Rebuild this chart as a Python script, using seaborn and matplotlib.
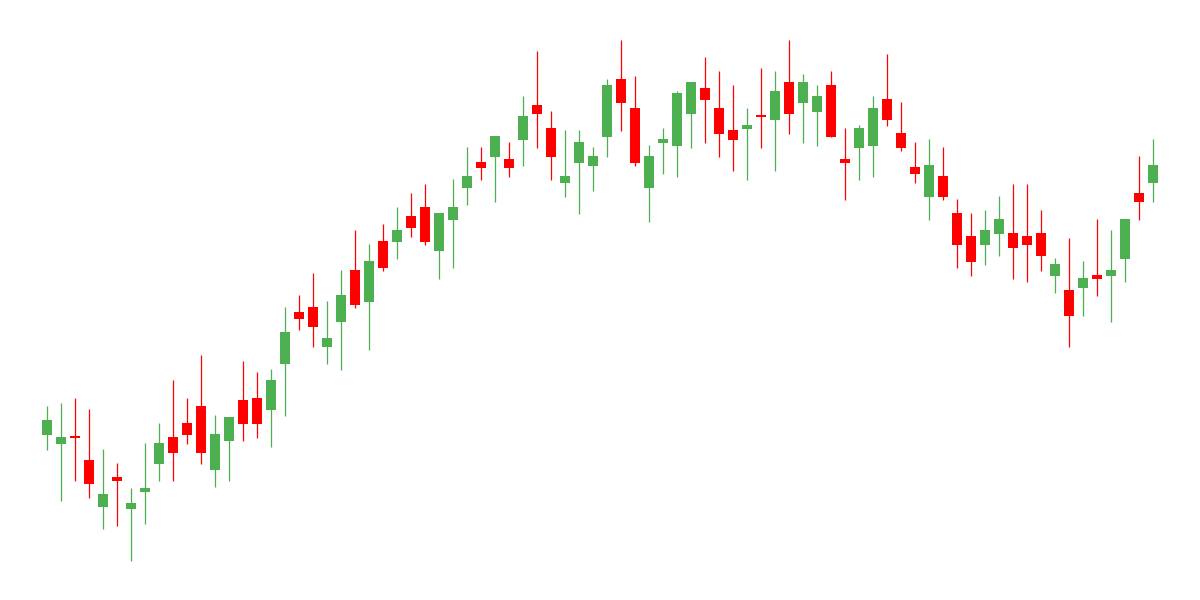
import numpy as np
import pandas as pd
import matplotlib
matplotlib.use("Agg")
import matplotlib.pyplot as plt
import seaborn as sns

# OHLC values (arbitrary price units)
opens = [165.3, 156.3, 163, 140, 93.3, 123, 91.3, 108.3, 136.3, 163,
         177, 194, 130.3, 159.3, 200, 202, 190.3, 236.3, 288, 293,
         253.3, 278.3, 330, 298.3, 359, 358.3, 384, 393, 349.3, 380.3,
         412.3, 438, 443.3, 441, 460.3, 495, 472, 417.3, 437.3, 434.3,
         463.3, 521, 492, 412.3, 457.3, 454.3, 486.3, 512, 492, 470,
         471.3, 484, 480.3, 518, 497.3, 488.3, 515, 441, 452.3, 454.3,
         501, 467, 433, 403.3, 424, 387, 364, 355.3, 366.3, 367,
         364, 367, 324.3, 310, 312.3, 325, 324.3, 341.3, 407, 417.3]
highs = [194, 197, 202, 191, 151, 137, 112, 157, 177.3, 220,
         202, 245, 185, 183, 239, 228, 231, 293, 305, 327,
         299, 330.3, 370, 356, 376, 393, 407, 416, 387, 421,
         453, 453, 464, 458, 504, 549, 489, 470, 470, 453,
         521, 560, 524, 455, 472, 509, 518, 543, 529, 515,
         492, 532, 529, 560, 526, 515, 529, 472, 475, 504,
         546, 498, 458, 461, 453, 401, 387, 390, 404, 416,
         416, 390, 342, 362, 339, 381, 370, 381, 444, 461]
lows = [150, 99.3, 119.3, 102.3, 71.3, 74.3, 39.3, 76.3, 119.3, 119.3,
        156.3, 136.3, 113.3, 119.3, 159.3, 162.3, 153.3, 184.3, 270.3, 253.3,
        236.3, 230.3, 292.3, 250.3, 329.3, 341.3, 363.3, 355.3, 321.3, 332.3,
        395.3, 420.3, 398.3, 423.3, 434.3, 452.3, 420.3, 403.3, 386.3, 409.3,
        443.3, 469.3, 434.3, 378.3, 426.3, 423.3, 452.3, 457.3, 443.3, 429.3,
        420.3, 452.3, 429.3, 466.3, 457.3, 454.3, 463.3, 400.3, 420.3, 423.3,
        474.3, 449.3, 417.3, 380.3, 400.3, 332.3, 324.3, 335.3, 344.3, 321.3,
        318.3, 329.3, 307.3, 253.3, 284.3, 304.3, 278.3, 318.3, 380.3, 398.3]
closes = [180, 163, 162.5, 116.3, 106, 119.3, 97, 112, 157, 147.3,
          165.3, 147.3, 166, 183, 176.3, 176.3, 220, 268, 281.3, 273.3,
          262, 305, 295.3, 339, 332.3, 370, 372.3, 358.3, 387, 393,
          424, 432.3, 464, 432.3, 484, 486.3, 443.3, 424, 458, 444,
          515, 497.3, 437.3, 444, 461, 507, 518, 500.3, 466.3, 460.3,
          475, 483.5, 509, 486.3, 518, 504, 463.3, 437.3, 472, 492,
          480.3, 452.3, 426.3, 435, 403.3, 355.3, 338.3, 370, 381, 352.3,
          355.3, 344.3, 336, 284.3, 322, 321.3, 330, 381, 398.3, 435]

UP = "#4caf50"
DOWN = "#ff0000"

df = pd.DataFrame({"open": opens, "high": highs, "low": lows, "close": closes})
df["idx"] = np.arange(len(df))
df["up"] = df["close"] >= df["open"]
df["color"] = np.where(df["up"], UP, DOWN)
df["bottom"] = df[["open", "close"]].min(axis=1)
df["height"] = (df["close"] - df["open"]).abs().clip(lower=1.3)

sns.set_style("white")
fig = plt.figure(figsize=(12, 6), dpi=100)
ax = fig.add_axes([0, 0, 1, 1])

# wicks, then bodies on top
ax.vlines(df["idx"], df["low"], df["high"], colors=df["color"], linewidth=0.9, zorder=1)
ax.bar(df["idx"], df["height"], bottom=df["bottom"], width=0.78,
       color=df["color"], linewidth=0, zorder=2)

ax.set_xlim(-47 / 14, (1200 - 47) / 14)
ax.set_ylim(0, 600)
ax.axis("off")
sns.despine(ax=ax, left=True, bottom=True)

fig.savefig("out.png", dpi=100, facecolor="white")
